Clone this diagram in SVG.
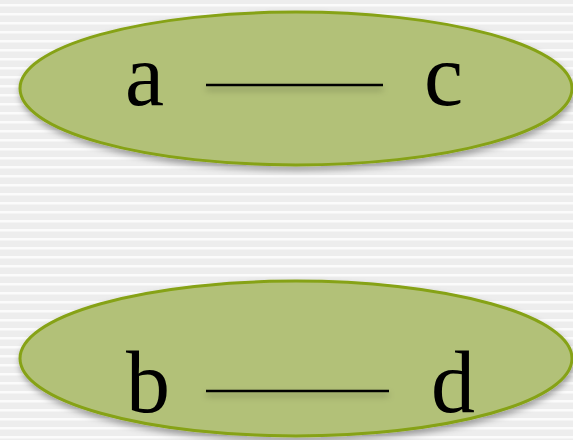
<svg xmlns="http://www.w3.org/2000/svg" width="573" height="440" viewBox="0 0 573 440">
<defs>
<pattern id="stripes" x="0" y="0" width="10" height="9" patternUnits="userSpaceOnUse">
<rect width="10" height="9" fill="#ededed"/>
<rect y="4" width="10" height="2.5" fill="#fbfbfb"/>
</pattern>
<filter id="sh" x="-10%" y="-20%" width="120%" height="150%">
<feDropShadow dx="1" dy="4" stdDeviation="3" flood-color="#000" flood-opacity="0.35"/>
</filter>
<filter id="lsh" filterUnits="userSpaceOnUse" x="0" y="0" width="573" height="440">
<feDropShadow dx="0" dy="4" stdDeviation="3" flood-color="#000" flood-opacity="0.3"/>
</filter>
</defs>
<style>
.node ellipse{fill:#b2c178;stroke:#86a214;stroke-width:3;filter:url(#sh)}
.lbl{font-family:"Liberation Serif","Times New Roman",serif;font-size:88px;fill:#000}
.conn line{stroke:#000;stroke-width:2.5;filter:url(#lsh)}
</style>
<rect width="573" height="440" fill="url(#stripes)"/>
<g id="top">
<g class="node"><ellipse cx="296" cy="88.5" rx="276" ry="76.5"/></g>
</g>
<g id="bottom">
<g class="node"><ellipse cx="296" cy="358.5" rx="276" ry="77.5"/></g>
</g>
<g id="node-a"><text class="lbl" x="125" y="105">a</text></g>
<g id="node-c"><text class="lbl" x="424" y="105">c</text></g>
<g id="node-b"><text class="lbl" x="126" y="412">b</text></g>
<g id="node-d"><text class="lbl" x="431" y="412">d</text></g>
<g id="connectors" class="conn">
<line x1="206" y1="85" x2="383" y2="85"/>
<line x1="206" y1="391" x2="389" y2="391"/>
</g>
</svg>
